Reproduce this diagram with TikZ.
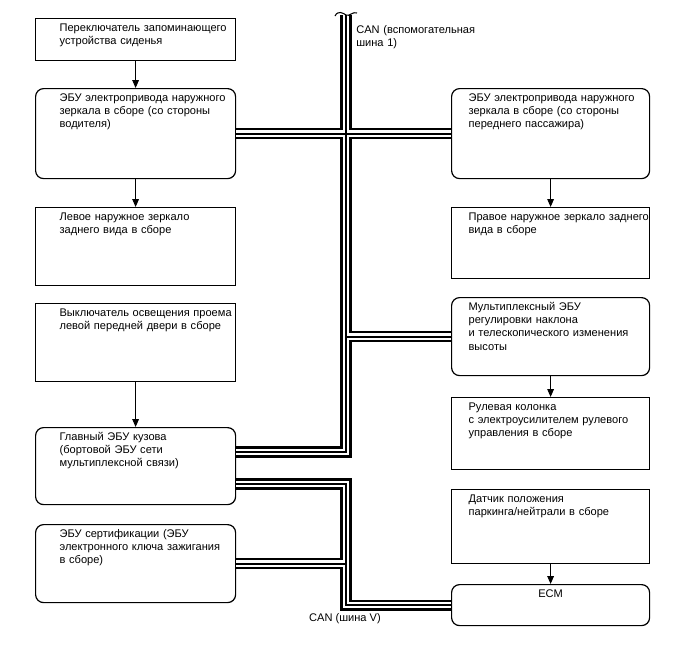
\documentclass[tikz,border=0pt]{standalone}
\usepackage{fontspec}
\setmainfont{Liberation Sans}
\usetikzlibrary{arrows.meta, calc}

\tikzset{
  panel/.style={draw, line width=0.9pt, anchor=north west, align=left,
    inner xsep=0pt, inner ysep=2.4pt, text height=7pt, text depth={#1-11.8pt}},
  ecu/.style={panel=#1, rounded corners=6pt},
  leftcol/.style={text width=150pt, execute at begin node={\leftskip=18pt\rightskip=-12pt plus 1fil}},
  rightcol/.style={text width=148.5pt, execute at begin node={\leftskip=12.75pt\rightskip=-12pt plus 1fil}},
  flow/.style={line width=0.7pt, -{Triangle[length=6pt,width=5pt]}},
  canbus/.style={line width=1.6pt, preaction={draw, line width=8.4pt},
    preaction={draw=white, line width=5pt}},
}

\begin{document}
\begin{tikzpicture}[x=0.75pt, y=-0.75pt, every node/.style={font=\fontsize{8.3}{10}\selectfont}]
  \useasboundingbox (0,0) rectangle (688,658);

  % left column
  \begin{scope}[leftcol]
    \node[panel=31.5pt] (seatsw) at (35,18) {Переключатель запоминающего\\устройства сиденья};
    \node[ecu=67.5pt] (drvecu) at (35,88) {ЭБУ электропривода наружного\\зеркала в сборе (со стороны\\водителя)};
    \node[panel=58.5pt] (lmirror) at (35,207) {Левое наружное зеркало\\заднего вида в сборе};
    \node[panel=58.5pt] (doorsw) at (35,303) {Выключатель освещения проема\\левой передней двери в сборе};
    \node[ecu=57.75pt] (bodyecu) at (35,427) {Главный ЭБУ кузова\\(бортовой ЭБУ сети\\мультиплексной связи)};
    \node[ecu=58.5pt] (certecu) at (35,524) {ЭБУ сертификации (ЭБУ\\электронного ключа зажигания\\в сборе)};
  \end{scope}

  % right column
  \begin{scope}[rightcol]
    \node[ecu=67.5pt] (passecu) at (451,88) {ЭБУ электропривода наружного\\зеркала в сборе (со стороны\\переднего пассажира)};
    \node[panel=53.25pt] (rmirror) at (451,207) {Правое наружное зеркало заднего\\вида в сборе};
    \node[ecu=58.5pt] (tiltecu) at (451,297) {Мультиплексный ЭБУ\\регулировки наклона\\и телескопического изменения\\высоты};
    \node[panel=54pt] (column) at (451,397) {Рулевая колонка\\с электроусилителем рулевого\\управления в сборе};
    \node[panel=55.5pt] (pnsensor) at (451,489) {Датчик положения\\паркинга/нейтрали в сборе};
    \node[ecu=30.75pt, align=center, execute at begin node={\leftskip=0pt plus 1fil\rightskip=0pt plus 1fil\parfillskip=0pt}] (ecm) at (451,584) {ECM};
  \end{scope}

  % arrows
  \draw[flow] (seatsw.south) -- (drvecu.north);
  \draw[flow] (drvecu.south) -- (lmirror.north);
  \draw[flow] (doorsw.south) -- (bodyecu.north);
  \draw[flow] (passecu.south) -- (rmirror.north);
  \draw[flow] (tiltecu.south) -- (column.north);
  \draw[flow] (pnsensor.south) -- (ecm.north);

  % CAN buses
  \coordinate (cantop) at (346,15);
  \draw[canbus] (cantop) |- ($(bodyecu.north east)+(0,25)$)
    (drvecu.east) -- (passecu.west)
    (tiltecu.west) -- (tiltecu.west -| cantop);
  \draw[canbus] ($(bodyecu.north east)+(0,57)$) -| (cantop |- ecm.west) -- (ecm.west)
    (certecu.east) -- (certecu.east -| cantop);
  \draw[line width=0.8pt] ($(cantop)+(-11,1)$) .. controls ($(cantop)+(-8,-5)$) and ($(cantop)+(-3,-2)$) .. (cantop)
    .. controls ($(cantop)+(3,2)$) and ($(cantop)+(7,-4)$) .. ($(cantop)+(11,-2)$);

  \node[anchor=north west, align=left, text width=120pt, inner sep=0pt, text height=7pt] (can1lbl) at (356,23.7) {CAN (вспомогательная\\шина 1)};
  \node[anchor=base] (canvlbl) at (345,621) {CAN (шина V)};
\end{tikzpicture}
\end{document}
